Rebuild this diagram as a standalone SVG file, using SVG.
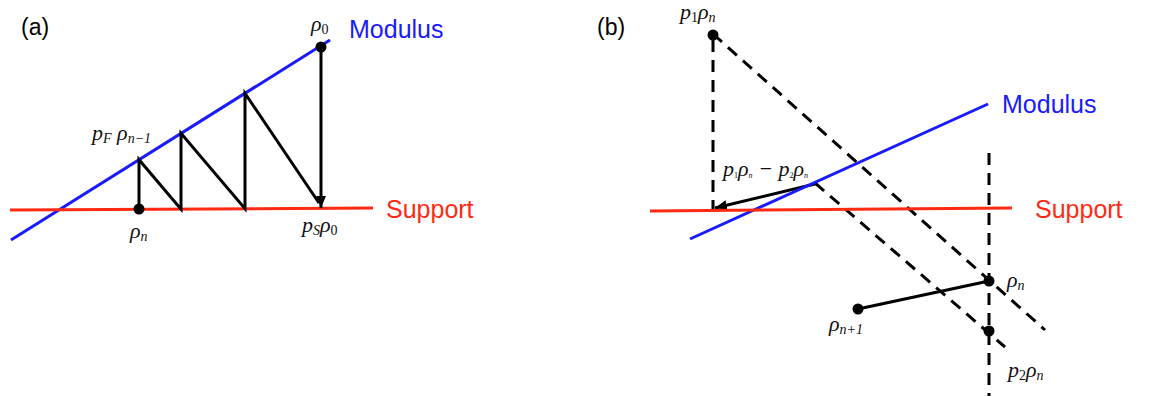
<svg xmlns="http://www.w3.org/2000/svg" width="1151" height="396" viewBox="0 0 1151 396">
<style>
.blue{stroke:#1a1aff;stroke-width:3;fill:none}
.red{stroke:#ff2a12;stroke-width:3;fill:none}
.blk{stroke:#000;stroke-width:3;fill:none}
.dash{stroke:#000;stroke-width:3;fill:none;stroke-dasharray:12 8}
.dot{fill:#000}
.lab{font-family:"Liberation Serif",serif;font-style:italic;font-size:22px;fill:#111}
.sans{font-family:"Liberation Sans",Arial,sans-serif}
.sub{font-size:14px}
.up{font-style:normal}
</style>
<defs>
<marker id="ah" markerUnits="userSpaceOnUse" markerWidth="14" markerHeight="12" refX="12" refY="5" orient="auto">
<path d="M0,0 L12,5 L0,10 Z" fill="#000"/>
</marker>
</defs>
<rect width="1151" height="396" fill="#fff"/>

<g id="panel-a">
<text class="sans" x="21" y="35" font-size="23" fill="#000">(a)</text>
<g id="a-modulus"><line class="blue" x1="11" y1="240" x2="330" y2="40"/>
<text class="sans" x="349" y="38" font-size="25" fill="#1a1aff">Modulus</text></g>
<g id="a-support"><line class="red" x1="10" y1="210" x2="373" y2="208"/>
<text class="sans" x="386" y="218" font-size="25" fill="#ff2a12">Support</text></g>
</g>

<g id="connectors">
<polyline class="blk" points="139,209 139,159.7 181,209.1 181,133.4 245,208.7 245,93.3 319,203"/>
<line class="blk" x1="321" y1="48" x2="321" y2="208" marker-end="url(#ah)"/>
<line class="dash" x1="713" y1="40" x2="713" y2="210"/>
<line class="dash" x1="713" y1="34" x2="1045" y2="330"/>
<line class="dash" x1="815" y1="183" x2="1005" y2="347"/>
<line class="dash" x1="989" y1="153" x2="989" y2="396"/>
<line class="blk" x1="815" y1="184" x2="715" y2="208" stroke-width="2.5" marker-end="url(#ah)"/>
<line class="blk" x1="858" y1="309" x2="989" y2="281"/>
</g>

<g id="node-rho0"><circle class="dot" cx="321" cy="47" r="5.5"/>
<text class="lab" x="311" y="31">ρ<tspan class="sub up" dy="3">0</tspan></text></g>
<g id="node-rhon-a"><circle class="dot" cx="139" cy="209" r="5.5"/>
<text class="lab" x="130" y="238">ρ<tspan class="sub" dy="3">n</tspan></text></g>
<g id="node-pF"><text class="lab" x="92" y="140">p<tspan class="sub" dy="3">F</tspan><tspan dy="-3"> ρ</tspan><tspan class="sub" dy="3">n−1</tspan></text></g>
<g id="node-pS"><text class="lab" x="302" y="232">p<tspan class="sub" dy="3">S</tspan><tspan dy="-3">ρ</tspan><tspan class="sub up" dy="3">0</tspan></text></g>

<g id="panel-b">
<text class="sans" x="597" y="35" font-size="23" fill="#000">(b)</text>
<g id="b-modulus"><line class="blue" x1="690" y1="239" x2="988" y2="104"/>
<text class="sans" x="1002" y="113" font-size="25" fill="#1a1aff">Modulus</text></g>
<g id="b-support"><line class="red" x1="650" y1="211" x2="1012" y2="208"/>
<text class="sans" x="1035" y="218" font-size="25" fill="#ff2a12">Support</text></g>
</g>

<g id="node-p1"><circle class="dot" cx="713" cy="35" r="5.5"/>
<text class="lab" x="680" y="19" font-size="20">p<tspan class="sub up" dy="3">1</tspan><tspan dy="-3">ρ</tspan><tspan class="sub" dy="3">n</tspan></text></g>
<g id="node-diff"><text class="lab" x="723" y="176" font-size="11.5">p<tspan font-size="8" font-style="normal" dy="2">1</tspan><tspan dy="-2">ρ</tspan><tspan font-size="8" dy="2">n</tspan><tspan dy="-2"> − p</tspan><tspan font-size="8" font-style="normal" dy="2">2</tspan><tspan dy="-2">ρ</tspan><tspan font-size="8" dy="2">n</tspan></text></g>
<g id="node-rhon-b"><circle class="dot" cx="989" cy="281" r="5.5"/>
<text class="lab" x="1007" y="287">ρ<tspan class="sub" dy="3">n</tspan></text></g>
<g id="node-p2"><circle class="dot" cx="989" cy="331" r="5.5"/>
<text class="lab" x="1008" y="377">p<tspan class="sub up" dy="3">2</tspan><tspan dy="-3">ρ</tspan><tspan class="sub" dy="3">n</tspan></text></g>
<g id="node-rhon1"><circle class="dot" cx="858" cy="309" r="5.5"/>
<text class="lab" x="829" y="331">ρ<tspan class="sub" dy="3">n+1</tspan></text></g>
</svg>
